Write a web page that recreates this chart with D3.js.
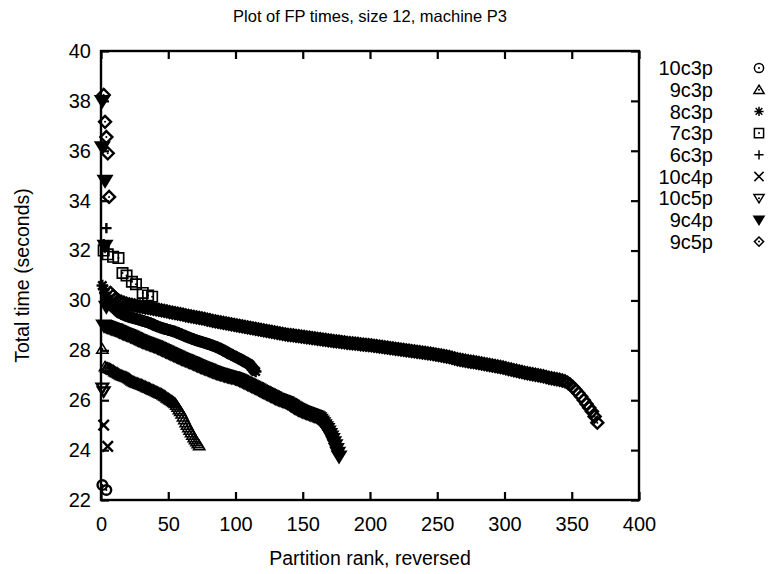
<!DOCTYPE html>
<html>
<head>
<meta charset="utf-8">
<script src="https://cdn.jsdelivr.net/npm/d3@7"></script>
<style>
  body { margin: 0; background: #fff; }
  text { font-family: "Liberation Sans", Arial, Helvetica, sans-serif; fill: #000; }
</style>
</head>
<body>
<div id="chart"></div>
<script>
// legend order = drawing order
var seriesNames = ["10c3p", "9c3p", "8c3p", "7c3p", "6c3p", "10c4p", "10c5p", "9c4p", "9c5p"];
var seriesShapes = ["circle", "triangleUp", "star", "square", "plus", "cross", "triangleDown", "triangleDownFilled", "diamond"];

var xTicks = [0, 50, 100, 150, 200, 250, 300, 350, 400];
var yTicks = [22, 24, 26, 28, 30, 32, 34, 36, 38, 40];

// [rank, seconds] for the short series and outliers
var pts10c3p = [[1, 22.6], [4, 22.4]];
var pts9c3p = [[1, 28.05]];
var pts7c3p = [[2, 32.0], [5, 31.85], [9, 31.75], [13, 31.7], [16, 31.1], [19, 31.0], [23, 30.75], [26, 30.65], [31, 30.3], [35, 30.2], [38, 30.15]];
var pts6c3p = [[4, 32.9], [2, 32.25]];
var pts10c4p = [[2, 25.0], [5, 24.15]];
var pts10c5p = [[1, 26.5], [2, 26.35]];
var pts9c4p = [[1, 38.0], [1, 36.15], [3, 34.8], [3, 32.2], [4, 29.75]];
var pts9c5p = [[2, 38.24], [3, 37.16], [4, 36.55], [5, 35.9], [6, 34.15]];

// long runs, one value per rank (9c5p: every second rank)
var run9c3p = { start: 3, step: 1, values: [
  27.35, 27.3, 27.3, 27.28, 27.25, 27.22, 27.2, 27.15, 27.12, 27.1,
  27.06, 27.03, 27.0, 26.98, 26.96, 26.94, 26.92, 26.9, 26.86, 26.82,
  26.78, 26.75, 26.72, 26.7, 26.68, 26.66, 26.64, 26.62, 26.6, 26.57,
  26.55, 26.52, 26.5, 26.48, 26.45, 26.42, 26.4, 26.38, 26.35, 26.32,
  26.3, 26.27, 26.25, 26.22, 26.18, 26.15, 26.1, 26.07, 26.03, 26.0,
  25.96, 25.92, 25.88, 25.8, 25.72, 25.62, 25.55, 25.45, 25.33, 25.22,
  25.1, 25.0, 24.9, 24.8, 24.7, 24.6, 24.5, 24.42, 24.34, 24.26, 24.18] };

var run8c3p = { start: 1, step: 1, values: [
  30.6, 30.45, 30.3, 30.15, 30.05, 29.95, 29.88, 29.82, 29.76, 29.7,
  29.65, 29.6, 29.55, 29.5, 29.47, 29.45, 29.42, 29.4, 29.37, 29.35,
  29.34, 29.32, 29.31, 29.29, 29.28, 29.26, 29.25, 29.23, 29.22, 29.2,
  29.18, 29.17, 29.15, 29.13, 29.12, 29.1, 29.08, 29.05, 29.03, 29.0,
  28.98, 28.96, 28.94, 28.92, 28.9, 28.88, 28.87, 28.85, 28.84, 28.82,
  28.81, 28.79, 28.78, 28.76, 28.75, 28.72, 28.7, 28.68, 28.65, 28.63,
  28.61, 28.59, 28.56, 28.54, 28.52, 28.5, 28.48, 28.46, 28.44, 28.42,
  28.4, 28.38, 28.37, 28.35, 28.33, 28.32, 28.3, 28.28, 28.27, 28.25,
  28.23, 28.21, 28.19, 28.17, 28.15, 28.13, 28.11, 28.08, 28.05, 28.03,
  28.0, 27.97, 27.94, 27.91, 27.88, 27.85, 27.82, 27.8, 27.77, 27.74,
  27.71, 27.69, 27.66, 27.63, 27.6, 27.57, 27.54, 27.51, 27.48, 27.45,
  27.4, 27.33, 27.26, 27.2, 27.15] };

var run9c4p = { start: 2, step: 1, values: [
  29.0, 28.98, 28.96, 28.94, 28.92, 28.9, 28.88, 28.86, 28.85, 28.83,
  28.8, 28.78, 28.75, 28.73, 28.7, 28.68, 28.66, 28.64, 28.62, 28.6,
  28.57, 28.55, 28.52, 28.5, 28.47, 28.44, 28.42, 28.4, 28.37, 28.35,
  28.33, 28.31, 28.29, 28.27, 28.25, 28.23, 28.21, 28.19, 28.17, 28.15,
  28.12, 28.1, 28.07, 28.05, 28.02, 28.0, 27.97, 27.95, 27.92, 27.9,
  27.87, 27.85, 27.82, 27.8, 27.77, 27.75, 27.72, 27.7, 27.67, 27.65,
  27.63, 27.61, 27.59, 27.56, 27.54, 27.52, 27.5, 27.47, 27.45, 27.42,
  27.4, 27.38, 27.35, 27.33, 27.31, 27.29, 27.27, 27.25, 27.23, 27.2,
  27.18, 27.16, 27.14, 27.12, 27.1, 27.08, 27.07, 27.05, 27.04, 27.02,
  27.0, 26.99, 26.97, 26.96, 26.94, 26.93, 26.92, 26.9, 26.88, 26.86,
  26.84, 26.81, 26.79, 26.76, 26.73, 26.71, 26.68, 26.65, 26.63, 26.6,
  26.57, 26.55, 26.52, 26.5, 26.47, 26.44, 26.41, 26.38, 26.35, 26.33,
  26.3, 26.27, 26.25, 26.22, 26.19, 26.17, 26.14, 26.11, 26.08, 26.06,
  26.04, 26.02, 26.0, 25.98, 25.96, 25.94, 25.92, 25.88, 25.85, 25.81,
  25.78, 25.74, 25.71, 25.68, 25.65, 25.62, 25.6, 25.57, 25.55, 25.53,
  25.51, 25.49, 25.47, 25.45, 25.43, 25.41, 25.39, 25.37, 25.35, 25.32,
  25.28, 25.22, 25.15, 25.08, 25.0, 24.92, 24.85, 24.75, 24.65, 24.55,
  24.45, 24.32, 24.2, 24.05, 23.9, 23.75] };

var run9c5p = { start: 7, step: 2, values: [
  30.3, 30.18, 30.08, 30.0, 29.95, 29.91, 29.87, 29.84, 29.82, 29.8,
  29.78, 29.76, 29.74, 29.72, 29.7, 29.68, 29.66, 29.64, 29.62, 29.6,
  29.58, 29.56, 29.53, 29.51, 29.49, 29.47, 29.45, 29.43, 29.4, 29.38,
  29.36, 29.34, 29.32, 29.3, 29.28, 29.26, 29.23, 29.21, 29.18, 29.16,
  29.14, 29.12, 29.1, 29.08, 29.06, 29.04, 29.02, 29.0, 28.98, 28.96,
  28.94, 28.92, 28.9, 28.88, 28.86, 28.84, 28.82, 28.8, 28.78, 28.76,
  28.74, 28.72, 28.7, 28.68, 28.66, 28.64, 28.62, 28.61, 28.6, 28.58,
  28.57, 28.55, 28.54, 28.52, 28.51, 28.49, 28.48, 28.46, 28.45, 28.43,
  28.42, 28.4, 28.39, 28.37, 28.36, 28.35, 28.33, 28.32, 28.3, 28.29,
  28.28, 28.27, 28.26, 28.24, 28.23, 28.22, 28.21, 28.2, 28.18, 28.17,
  28.15, 28.14, 28.12, 28.11, 28.09, 28.08, 28.06, 28.05, 28.03, 28.02,
  28.0, 27.99, 27.97, 27.96, 27.94, 27.93, 27.91, 27.9, 27.88, 27.87,
  27.85, 27.83, 27.81, 27.79, 27.77, 27.75, 27.73, 27.7, 27.67, 27.64,
  27.62, 27.6, 27.58, 27.56, 27.54, 27.53, 27.51, 27.49, 27.47, 27.45,
  27.43, 27.41, 27.39, 27.37, 27.35, 27.33, 27.31, 27.28, 27.25, 27.23,
  27.2, 27.18, 27.15, 27.13, 27.1, 27.08, 27.06, 27.04, 27.02, 27.0,
  26.98, 26.96, 26.93, 26.9, 26.88, 26.86, 26.84, 26.82, 26.79, 26.76,
  26.7, 26.62, 26.52, 26.4, 26.28, 26.15, 26.0, 25.85, 25.7, 25.55,
  25.35, 25.1] };

function runToPts(run) {
  return run.values.map((v, i) => [run.start + i * run.step, v]);
}

var seriesData = [
  pts10c3p,
  pts9c3p.concat(runToPts(run9c3p)),
  runToPts(run8c3p),
  pts7c3p,
  pts6c3p,
  pts10c4p,
  pts10c5p,
  pts9c4p.concat(runToPts(run9c4p)),
  pts9c5p.concat(runToPts(run9c5p))
];

// Set up dimensions
var width = 768, height = 574;
var margin = {top: 51, right: 129, bottom: 74, left: 101};
var plotW = width - margin.left - margin.right;
var plotH = height - margin.top - margin.bottom;

var svg = d3.select("#chart").append("svg")
  .attr("width", width)
  .attr("height", height);

var g = svg.append("g")
  .attr("transform", "translate(" + margin.left + "," + margin.top + ")");

var x = d3.scaleLinear().domain([0, 400]).range([0, plotW]);
var y = d3.scaleLinear().domain([22, 40]).range([plotH, 0]);

// marker outlines, h = half size
function markerPath(shape, h) {
  switch (shape) {
    case "circle":
      return "M" + (-h) + ",0A" + h + "," + h + " 0 1,0 " + h + ",0A" + h + "," + h + " 0 1,0 " + (-h) + ",0Z";
    case "triangleUp":
      return "M0," + (-h) + "L" + (h * 1.1) + "," + (h * 0.8) + "L" + (-h * 1.1) + "," + (h * 0.8) + "Z";
    case "triangleDown":
    case "triangleDownFilled":
      return "M0," + h + "L" + (h * 1.1) + "," + (-h * 0.8) + "L" + (-h * 1.1) + "," + (-h * 0.8) + "Z";
    case "square":
      return "M" + (-h) + "," + (-h) + "H" + h + "V" + h + "H" + (-h) + "Z";
    case "diamond":
      return "M0," + (-h) + "L" + h + ",0L0," + h + "L" + (-h) + ",0Z";
    case "plus":
      return "M" + (-h) + ",0H" + h + "M0," + (-h) + "V" + h;
    case "cross":
      return "M" + (-h) + "," + (-h) + "L" + h + "," + h + "M" + h + "," + (-h) + "L" + (-h) + "," + h;
    case "star":
      var d = h * 0.72;
      return "M" + (-h) + ",0H" + h + "M0," + (-h) + "V" + h +
        "M" + (-d) + "," + (-d) + "L" + d + "," + d + "M" + d + "," + (-d) + "L" + (-d) + "," + d;
  }
}

var dotted = {circle: 1, triangleUp: 1, triangleDown: 1, square: 1, diamond: 1};

function drawMarker(sel, shape, h, sw) {
  sel.append("path")
    .attr("d", markerPath(shape, h))
    .attr("fill", shape === "triangleDownFilled" ? "#000" : "none")
    .attr("stroke", "#000")
    .attr("stroke-width", sw);
  if (dotted[shape]) {
    sel.append("circle").attr("r", 1).attr("fill", "#000");
  }
}

var markerSize = {circle: 4.8, triangleUp: 5.2, star: 5.8, square: 5.2, plus: 5.2, cross: 5.2, triangleDown: 5.2, triangleDownFilled: 5.8, diamond: 6};
// thinner outlines where the hollow markers stay visible in the scan
var strokeW = {triangleUp: 1.5, square: 1.7};

// Draw series points
seriesNames.forEach(function(name, si) {
  var shape = seriesShapes[si];
  var layer = g.append("g").attr("class", "series s" + si);
  layer.selectAll("g")
    .data(seriesData[si])
    .enter().append("g")
    .attr("transform", d => "translate(" + x(d[0]) + "," + y(d[1]) + ")")
    .each(function() { drawMarker(d3.select(this), shape, markerSize[shape], strokeW[shape] || 2.4); });
});

// Axes, ticks pointing inward on all four sides
g.append("g")
  .attr("transform", "translate(0," + plotH + ")")
  .call(d3.axisBottom(x).tickValues(xTicks).tickSize(-8).tickSizeOuter(0).tickPadding(17))
  .call(a => a.select(".domain").remove())
  .call(a => a.selectAll("text").attr("font-size", "20px").attr("font-family", "Liberation Sans, Arial, sans-serif").attr("fill", "#000"));

g.append("g")
  .call(d3.axisTop(x).tickValues(xTicks).tickSize(-8).tickSizeOuter(0).tickFormat(""))
  .call(a => a.select(".domain").remove());

g.append("g")
  .call(d3.axisLeft(y).tickValues(yTicks).tickSize(-8).tickSizeOuter(0).tickPadding(10))
  .call(a => a.select(".domain").remove())
  .call(a => a.selectAll("text").attr("font-size", "20px").attr("font-family", "Liberation Sans, Arial, sans-serif").attr("fill", "#000"));

g.append("g")
  .attr("transform", "translate(" + plotW + ",0)")
  .call(d3.axisRight(y).tickValues(yTicks).tickSize(-8).tickSizeOuter(0).tickFormat(""))
  .call(a => a.select(".domain").remove());

g.selectAll(".tick line").attr("stroke", "#000").attr("stroke-width", 2.2);

g.append("rect")
  .attr("width", plotW)
  .attr("height", plotH)
  .attr("fill", "none")
  .attr("stroke", "#000")
  .attr("stroke-width", 2.4);

// Titles
svg.append("text")
  .attr("x", 370)
  .attr("y", 22)
  .attr("text-anchor", "middle")
  .attr("font-size", "16.5px")
  .text("Plot of FP times, size 12, machine P3");

svg.append("text")
  .attr("x", margin.left + plotW / 2)
  .attr("y", 565)
  .attr("text-anchor", "middle")
  .attr("font-size", "19.5px")
  .text("Partition rank, reversed");

svg.append("text")
  .attr("transform", "translate(29," + (margin.top + plotH / 2) + ") rotate(-90)")
  .attr("text-anchor", "middle")
  .attr("font-size", "19.5px")
  .text("Total time (seconds)");

// Legend
var legend = svg.selectAll(".legend")
  .data(seriesNames)
  .enter().append("g")
  .attr("class", "legend")
  .attr("transform", (d, i) => "translate(0," + (68 + i * 21.7) + ")");

legend.append("text")
  .attr("x", 713)
  .attr("dy", "0.36em")
  .attr("text-anchor", "end")
  .attr("font-size", "20px")
  .text(d => d);

legend.append("g")
  .attr("transform", "translate(759,0)")
  .each(function(d, i) { drawMarker(d3.select(this), seriesShapes[i], 4.6, 1.5); });
</script>
</body>
</html>
